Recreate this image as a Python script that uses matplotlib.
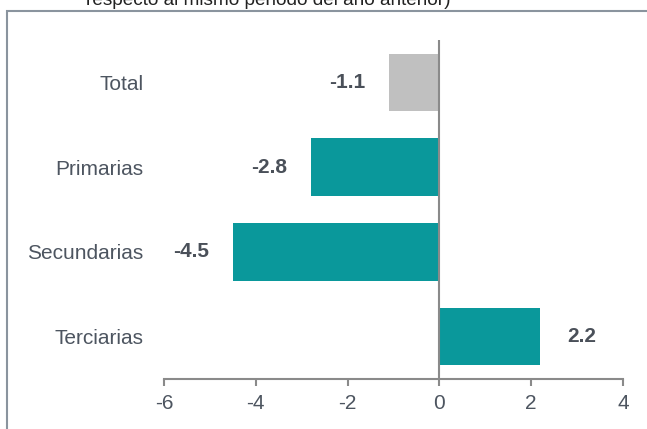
import matplotlib.pyplot as plt
from matplotlib.patches import Rectangle

plt.rcParams['font.family'] = ['Liberation Sans', 'DejaVu Sans']

# --- datos ---
categorias = ['Total', 'Primarias', 'Secundarias', 'Terciarias']
valores = [-1.1, -2.8, -4.5, 2.2]
colores = ['#c0c0c0', '#0a989b', '#0a989b', '#0a989b']
ticks_x = [-6, -4, -2, 0, 2, 4]

fig = plt.figure(figsize=(6.47, 4.29), dpi=100)
ax = fig.add_axes([164 / 647, 1 - 379 / 429, (623 - 164) / 647, (379 - 40) / 429])

pos = list(range(len(categorias)))
ax.barh(pos, valores, height=0.68, color=colores, zorder=2)
ax.axvline(0, color='#8a8a8a', lw=1.5, zorder=3)

# etiquetas de valor
for p, v in zip(pos, valores):
    off = -30 if v < 0 else 30
    ax.annotate(f'{v:.1f}', (v, p), xytext=(off, 0), textcoords='offset points',
                ha='center', va='center',
                fontsize=15, fontweight='bold', color='#4a5059')

ax.set_xlim(-6, 4)
ax.set_ylim(3.5, -0.5)
ax.set_xticks(ticks_x)
ax.set_xticklabels([str(t) for t in ticks_x])
ax.set_yticks(pos)
ax.set_yticklabels(categorias)

for s in ['left', 'right', 'top']:
    ax.spines[s].set_visible(False)
ax.spines['bottom'].set_color('#8a8a8a')
ax.spines['bottom'].set_linewidth(1.5)
ax.tick_params(axis='x', colors='#8a8a8a', length=5, width=1.5, labelsize=15,
               labelcolor='#4d5560', pad=6)
ax.tick_params(axis='y', length=0, labelsize=15, labelcolor='#4d5560', pad=15)

# recuadro exterior
fig.patches.append(Rectangle((7 / 647, -0.1), 1.2, 1 - 11 / 429 + 0.1, transform=fig.transFigure,
                             fill=False, edgecolor='#8a949e', lw=1.5))

fig.text(268 / 647, 1 - 5 / 429, 'respecto al mismo periodo del año anterior)',
         ha='center', va='baseline', fontsize=13.7, color='#222222')

fig.savefig('out.png', dpi=100)
